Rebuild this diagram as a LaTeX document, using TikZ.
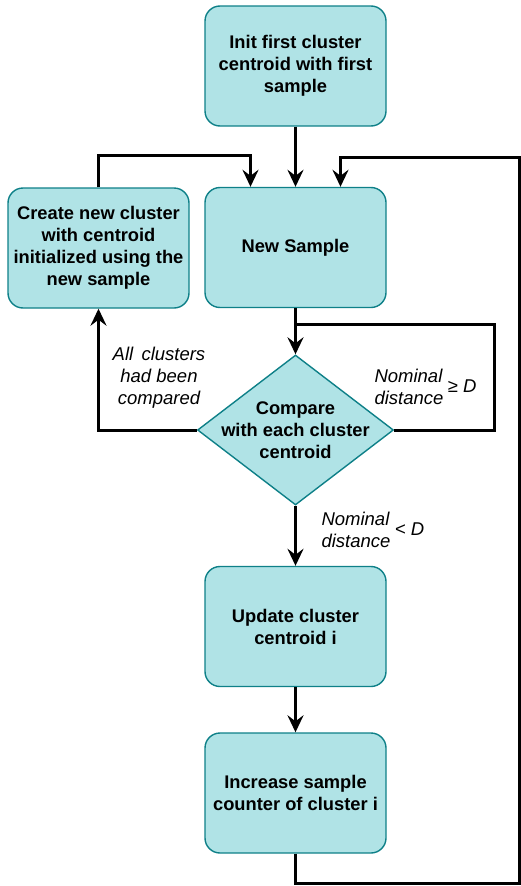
\documentclass[tikz,border=0pt]{standalone}
\usepackage{fontspec}
\setmainfont{Liberation Sans}
\usetikzlibrary{shapes.geometric,arrows.meta,positioning,calc}
\definecolor{boxfill}{HTML}{B0E3E6}
\definecolor{boxline}{HTML}{0E8088}
\tikzset{
  stepbox/.style={draw=boxline, fill=boxfill, line width=1.4pt, rounded corners=15pt,
    minimum width=181pt, minimum height=120pt, align=center,
    font=\bfseries\fontsize{18.3}{22}\selectfont},
  decide/.style={diamond, draw=boxline, fill=boxfill, line width=1.4pt,
    minimum width=196pt, minimum height=150pt, inner sep=0pt},
  flow/.style={line width=3pt, -{Stealth[length=17pt,width=16pt,inset=6pt]}},
  loopline/.style={line width=3pt},
  cond/.style={font=\itshape\fontsize{18.5}{22}\selectfont, align=center, inner sep=0pt}
}
\begin{document}
\begin{tikzpicture}[x=1pt,y=-1pt]
    \useasboundingbox (0,0) rectangle (521,886);
    \node[stepbox] (init) at (295.5,66) {Init first cluster\\centroid with first\\sample};
    \node[stepbox] (new) at (295.5,247.5) {New Sample};
    \node[stepbox] (create) at (98.5,248) {Create new cluster\\with centroid\\initialized using the\\new sample};
    \node[decide] (cmp) at (295.5,430) {};
    \node[align=center, font=\bfseries\fontsize{18.3}{22}\selectfont] (cmptext) at (cmp) {Compare\\with each cluster\\centroid};
    \node[stepbox] (upd) at (295.5,626.5) {Update cluster\\centroid i};
    \node[stepbox] (inc) at (295.5,793) {Increase sample\\counter of cluster i};

    \draw[flow] (init) -- (new);
    \draw[flow] (create.north) |- ([xshift=-45pt,yshift=31pt]new.north) -- ([xshift=-45pt]new.north);
    \draw[flow] (inc.south) -- ++(0,30) -| (519,157) -| ([xshift=45pt]new.north); % back to next sample
    \draw[flow] (new) -- (cmp);
    \draw[loopline] (cmp.east) -- ++(100,0) |- ([yshift=-16pt]new.south);
    \draw[flow] (cmp.west) -| (create.south);
    \draw[flow] (cmp) -- (upd);
    \draw[flow] (upd) -- (inc);

    \node[cond] (allcmp) at (159,378) {All\, clusters\\had been\\compared};
    \node[cond, align=left] (geqtext) at (409,387) {Nominal\\distance};
    \node[cond, right=4pt of geqtext.east, yshift=1pt] (geq) {≥ D};
    \node[cond, align=left] (lesstext) at (356,530) {Nominal\\distance};
    \node[cond, right=4pt of lesstext.east, yshift=1pt] (less) {< D};
\end{tikzpicture}
\end{document}
